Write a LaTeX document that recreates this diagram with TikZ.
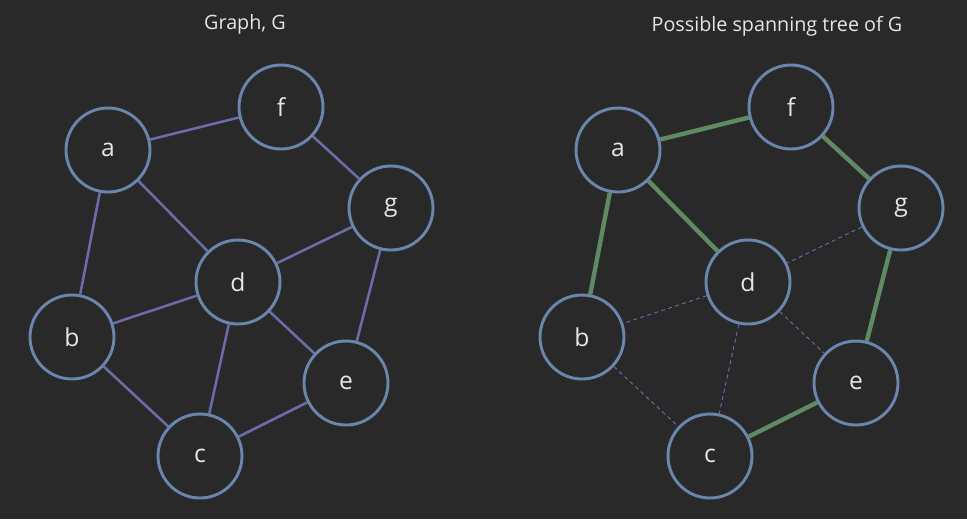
\documentclass[tikz,border=0pt]{standalone}
\usepackage{fontspec}
\setmainfont{Open Sans}
\definecolor{bgcol}{HTML}{292929}
\definecolor{ringcol}{HTML}{6A86AD}
\definecolor{edgecol}{HTML}{6C6CAB}
\definecolor{treecol}{HTML}{5F8A63}
\definecolor{txtcol}{HTML}{E6E6E6}
\begin{document}
\begin{tikzpicture}[x=0.75pt,y=-0.75pt,
        vertex/.style={circle,draw=ringcol,line width=2.2pt,minimum size=63pt,inner sep=0pt,text=txtcol,font=\fontsize{18.5}{20}\selectfont},
        title/.style={text=txtcol,font=\fontsize{14.8}{17}\selectfont},
        edge/.style={edgecol,line width=1.9pt},
        treeedge/.style={treecol,line width=3.3pt},
        spare/.style={edgecol,line width=0.7pt,dash pattern=on 3pt off 2.5pt}]
        \fill[bgcol] (0,0) rectangle (967,519);
        \useasboundingbox (0,0) rectangle (967,519);

        % graph G
        \node[title] (tG) at (245,24) {Graph, G};
        \node[vertex] (a) at (108,150) {a};
        \node[vertex] (f) at (281,107) {f};
        \node[vertex] (g) at (391,208) {g};
        \node[vertex] (d) at (238,282) {d};
        \node[vertex] (b) at (72,337) {b};
        \node[vertex] (e) at (346,383) {e};
        \node[vertex] (c) at (200,456) {c};

        \draw[edge] (a) -- (f);
        \draw[edge] (a) -- (b);
        \draw[edge] (a) -- (d);
        \draw[edge] (f) -- (g);
        \draw[edge] (g) -- (d);
        \draw[edge] (g) -- (e);
        \draw[edge] (d) -- (b);
        \draw[edge] (d) -- (c);
        \draw[edge] (d) -- (e);
        \draw[edge] (b) -- (c);
        \draw[edge] (c) -- (e);

        % spanning tree
        \node[title] (tT) at (777,26) {Possible spanning tree of G};
        \node[vertex] (ta) at (618,150) {a};
        \node[vertex] (tf) at (791,107) {f};
        \node[vertex] (tg) at (901,208) {g};
        \node[vertex] (td) at (748,282) {d};
        \node[vertex] (tb) at (582,337) {b};
        \node[vertex] (te) at (856,383) {e};
        \node[vertex] (tc) at (710,456) {c};

        \draw[treeedge] (ta) -- (tf);
        \draw[treeedge] (ta) -- (tb);
        \draw[treeedge] (ta) -- (td);
        \draw[treeedge] (tf) -- (tg);
        \draw[treeedge] (tg) -- (te);
        \draw[treeedge] (te) -- (tc);
        \draw[spare] (tg) -- (td);
        \draw[spare] (td) -- (tb);
        \draw[spare] (td) -- (tc);
        \draw[spare] (td) -- (te);
        \draw[spare] (tb) -- (tc);
\end{tikzpicture}
\end{document}
